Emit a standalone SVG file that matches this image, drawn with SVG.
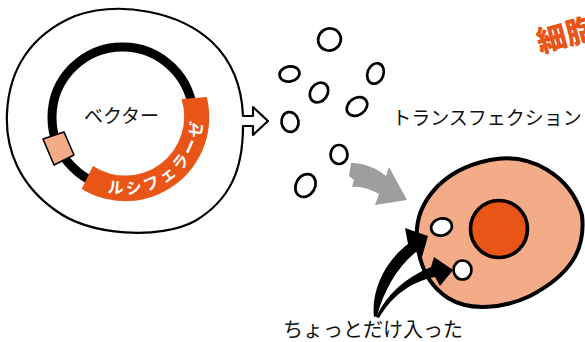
<svg xmlns="http://www.w3.org/2000/svg" width="585" height="342" viewBox="0 0 585 342">
  <style>
    .ink { stroke: #000; stroke-linejoin: round; stroke-linecap: round; }
    .vesicle { fill: #fff; stroke: #000; stroke-width: 2.7; }
    .label { font-family: "Noto Sans CJK JP", "Noto Sans", sans-serif; fill: #111; }
    .gene { font-family: "Noto Sans CJK JP", "Noto Sans", sans-serif; font-weight: 700; fill: #fff; }
  </style>
  <defs>
    <!-- baseline for the gene name, running counter-clockwise along the orange band -->
    <path id="genePath" d="M99.6,189.8 A78,78 0 0 0 200.3,95.8"/>
  </defs>

  <!-- host cell containing the vector, with the hollow arrow on its right edge -->
  <g id="host">
    <path class="ink" fill="#fff" stroke-width="2.2"
          d="M243,126 C243,170 230,200 195,221 C160,240 90,236 55,210 C20,185 5,150 7,113 C9,70 30,35 75,16 C120,0 180,12 212,42 C235,64 242,90 243,116 L253,116 L253,107 L268,121 L253,135 L253,126 Z"/>
  </g>

  <!-- plasmid ring -->
  <g id="vector">
    <circle cx="122.5" cy="117.4" r="70.5" fill="none" stroke="#000" stroke-width="9"/>
    <polygon class="ink" points="43,139 64,132 74,155 54,165" fill="#f4ab88" stroke-width="1.6"/>
    <text class="label" x="121.5" y="123" font-size="19" text-anchor="middle">ベクター</text>
  </g>

  <!-- luciferase insert -->
  <g id="luciferase">
    <path fill="#e95516" d="M206.8,97 A84,84 0 0 1 81.7,189 L92.9,166 A59,59 0 0 0 181.5,99 Z"/>
    <text class="gene" font-size="16" letter-spacing="3.6"><textPath href="#genePath" startOffset="8">ルシフェラーゼ</textPath></text>
  </g>

  <!-- released vesicles -->
  <g id="vesicles">
    <ellipse class="vesicle" cx="329.5" cy="39.5" rx="11.5" ry="11" transform="rotate(-30 329.5 39.5)"/>
    <ellipse class="vesicle" cx="289.5" cy="74" rx="10" ry="7.5" transform="rotate(-10 289.5 74)"/>
    <ellipse class="vesicle" cx="375.5" cy="73.5" rx="8" ry="10.5" transform="rotate(20 375.5 73.5)"/>
    <ellipse class="vesicle" cx="319" cy="92.5" rx="8.5" ry="10.5" transform="rotate(35 319 92.5)"/>
    <ellipse class="vesicle" cx="357" cy="106.5" rx="11" ry="8.5" transform="rotate(-35 357 106.5)"/>
    <ellipse class="vesicle" cx="290" cy="122" rx="8.5" ry="10" transform="rotate(-10 290 122)"/>
    <ellipse class="vesicle" cx="339" cy="154.5" rx="8.5" ry="9.5"/>
    <ellipse class="vesicle" cx="305.5" cy="185.5" rx="9.5" ry="12" transform="rotate(30 305.5 185.5)"/>
  </g>

  <text class="label" x="487" y="125" font-size="19" text-anchor="middle">トランスフェクション</text>

  <!-- target cell -->
  <g id="cell">
    <path class="ink" fill="#f4ab88" stroke-width="4"
          d="M417,240 C414,205 440,170 490,160 C530,152 570,175 582,215 C586,250 570,275 530,296 C505,308 470,312 448,298 C428,285 419,265 417,240 Z"/>
    <circle cx="499" cy="229" r="28.5" fill="#e95516" stroke="#000" stroke-width="3.6"/>
    <ellipse class="vesicle" cx="441.5" cy="227" rx="10.5" ry="8.5" transform="rotate(-15 441.5 227)"/>
    <ellipse class="vesicle" cx="462.5" cy="270" rx="9" ry="9.5"/>
  </g>

  <text id="title" x="540" y="53" font-size="30" font-weight="900" fill="#e95516"
        font-family="Noto Sans CJK JP, sans-serif" transform="rotate(-15 540 53)">細胞</text>

  <!-- connectors -->
  <g id="connectors">
    <path fill="#9d9e9d" d="M351,163 C365,163 378,169 386,176 L389,167 L407,200 L375,205 L379,194 C370,189 361,186 352,187 L354,180 L349,176 Z"/>
    <path fill="#000" d="M374,317 C371,292 384,262 408,244 L405,228 L428,236 L422,257 L416,252 C398,266 384,290 377,316 Z"/>
    <path fill="#000" d="M376,317 C387,294 405,278 431,267 L434,257 L453,270 L440,286 L435,277 C410,282 392,296 379,318 Z"/>
  </g>

  <text class="label" x="373" y="337" font-size="20" text-anchor="middle">ちょっとだけ入った</text>
</svg>
